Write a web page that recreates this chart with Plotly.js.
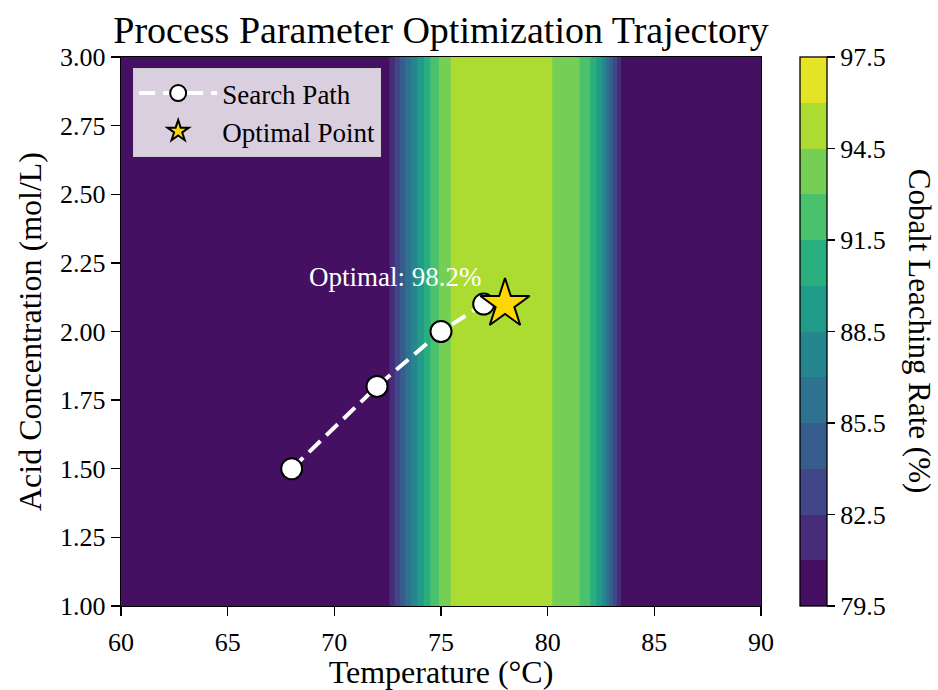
<!DOCTYPE html>
<html>
<head>
<meta charset="utf-8">
<script src="https://cdn.plot.ly/plotly-3.0.1.min.js"></script>
<style>
  html, body { margin: 0; padding: 0; background: #ffffff; }
  #chart { width: 938px; height: 690px; }
</style>
</head>
<body>
<div id="chart"></div>
<script>
// ---- Data ----
// Temperature grid (°C) and the leaching-rate profile across it (%), constant along concentration
const temperatureGrid = [60, 70, 72, 72.5, 73, 73.5, 74, 74.5, 75, 75.5, 76, 77, 78, 79, 80, 80.5, 81, 81.5, 82, 82.5, 83, 83.5, 84, 90];
const leachingProfile = [80, 80, 80, 80.5, 83.5, 86.5, 89.0, 91.5, 93.4, 94.6, 95.2, 95.4, 95.4, 95.3, 94.8, 94.1, 93.6, 93.0, 91.5, 89.0, 84.5, 80.5, 80, 80];
const concentrationGrid = [1.0, 3.0];

// Search path (temperature, acid concentration)
const pathTemperature = [68, 72, 75, 77];
const pathConcentration = [1.5, 1.8, 2.0, 2.1];

// Optimal point
const optimalTemperature = [78];
const optimalConcentration = [2.1];
const optimalRate = 98.2;

// Contour levels & colorbar ticks
const levelStart = 79.5, levelEnd = 97.5, levelStep = 1.5;
const colorbarTicks = [79.5, 82.5, 85.5, 88.5, 91.5, 94.5, 97.5];
const xTicks = [60, 65, 70, 75, 80, 85, 90];
const yTicks = [1.00, 1.25, 1.50, 1.75, 2.00, 2.25, 2.50, 2.75, 3.00];

// ---- Build ----
const zGrid = concentrationGrid.map(() => leachingProfile.slice());

const viridis = [
  [0.0, '#440154'], [0.1, '#482475'], [0.2, '#414487'], [0.3, '#355f8d'],
  [0.4, '#2a788e'], [0.5, '#21918c'], [0.6, '#22a884'], [0.7, '#44bf70'],
  [0.8, '#7ad151'], [0.9, '#bddf26'], [1.0, '#fde725']
];

const FONT = "'Liberation Serif', 'Times New Roman', Times, serif";
const TICK = 26;

const contourTrace = {
  type: 'contour',
  x: temperatureGrid,
  y: concentrationGrid,
  z: zGrid,
  zmin: levelStart, zmax: levelEnd, zauto: false,
  colorscale: viridis,
  autocontour: false,
  contours: { start: levelStart, end: levelEnd, size: levelStep, coloring: 'fill', showlines: false },
  line: { width: 0 },
  showlegend: false,
  hoverinfo: 'skip',
  colorbar: {
    x: 1.045, xanchor: 'left', xpad: 10,
    y: 0.5, yanchor: 'middle', len: 1, lenmode: 'fraction', ypad: 0,
    thickness: 27,
    outlinewidth: 1.3, outlinecolor: '#000',
    tickmode: 'array', tickvals: colorbarTicks, ticktext: colorbarTicks.map(v => v.toFixed(1)),
    ticks: 'outside', ticklen: 8, tickwidth: 1.3, tickcolor: '#000',
    tickfont: { family: FONT, size: TICK, color: '#000' }
  }
};

const pathTrace = {
  type: 'scatter', mode: 'lines+markers',
  name: 'Search Path',
  x: pathTemperature, y: pathConcentration,
  line: { color: '#ffffff', width: 4, dash: '16px,8px' },
  marker: { symbol: 'circle', size: 21, color: '#ffffff', line: { color: '#000', width: 2 } },
  hoverinfo: 'skip'
};

const optimalTrace = {
  type: 'scatter', mode: 'markers',
  name: 'Optimal Point',
  x: optimalTemperature, y: optimalConcentration,
  marker: { symbol: 'star', size: 37, color: '#FFD700', line: { color: '#000', width: 2 } },
  hoverinfo: 'skip'
};

const axisCommon = {
  showline: true, mirror: true, linecolor: '#000', linewidth: 1.3,
  ticks: 'outside', ticklen: 9, tickwidth: 1.3, tickcolor: '#000',
  showgrid: false, zeroline: false,
  tickfont: { family: FONT, size: TICK, color: '#000' }
};

const layout = {
  width: 938, height: 690,
  margin: { l: 121, r: 177, t: 57, b: 84 },
  paper_bgcolor: '#ffffff', plot_bgcolor: '#ffffff',
  font: { family: FONT, color: '#000' },
  title: {
    text: 'Process Parameter Optimization Trajectory',
    font: { family: FONT, size: 38, color: '#000' },
    x: 0.5, xref: 'paper', xanchor: 'center',
    y: 1 - 30 / 690, yref: 'container', yanchor: 'middle'
  },
  xaxis: Object.assign({}, axisCommon, {
    range: [60, 90], tickmode: 'array', tickvals: xTicks, ticktext: xTicks.map(String),
    ticklabelstandoff: 3,
    title: { text: 'Temperature (°C)', font: { family: FONT, size: 32, color: '#000' }, standoff: 4 }
  }),
  yaxis: Object.assign({}, axisCommon, {
    range: [1, 3], tickmode: 'array', tickvals: yTicks, ticktext: yTicks.map(v => v.toFixed(2)),
    title: { text: 'Acid Concentration (mol/L)', font: { family: FONT, size: 32, color: '#000' }, standoff: 8 }
  }),
  legend: {
    x: 0.019, y: 0.98, xanchor: 'left', yanchor: 'top',
    bgcolor: 'rgba(255,255,255,0.8)', bordercolor: '#cccccc', borderwidth: 1,
    font: { family: FONT, size: 27, color: '#000' },
    itemsizing: 'trace', itemwidth: 78
  },
  annotations: [
    {
      text: 'Optimal: ' + optimalRate.toFixed(1) + '%',
      x: 72.85, y: 2.2, xref: 'x', yref: 'y',
      xanchor: 'center', yanchor: 'middle', showarrow: false,
      font: { family: FONT, size: 27, color: '#ffffff' }
    },
    {
      text: 'Cobalt Leaching Rate (%)',
      x: 1.248, y: 0.5, xref: 'paper', yref: 'paper',
      xanchor: 'center', yanchor: 'middle', showarrow: false, textangle: 90,
      font: { family: FONT, size: 31, color: '#000' }
    }
  ]
};

Plotly.newPlot('chart', [contourTrace, pathTrace, optimalTrace], layout, { staticPlot: true, displayModeBar: false });
</script>
</body>
</html>
